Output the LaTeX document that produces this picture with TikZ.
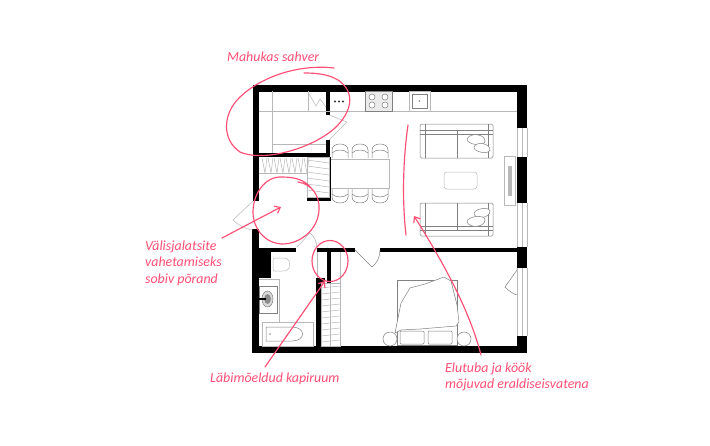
\documentclass[tikz,border=0pt]{standalone}
\usepackage{fontspec}
\setmainfont{Carlito}
\usetikzlibrary{arrows.meta}
\definecolor{notepink}{HTML}{FF4F75}
\definecolor{linegray}{HTML}{B8B8B8}
\definecolor{darkgray}{HTML}{808080}
\tikzset{
	wall/.style = {fill = black, draw = none},
	thin/.style = {draw = linegray, line width = 0.5pt},
	furn/.style = {draw = darkgray, line width = 0.5pt},
	inkline/.style = {draw = notepink, line width = 1.15pt, line cap = round},
	inkarrow/.style = {inkline, -{Straight Barb[length = 5pt, width = 8pt]}},
	note/.style = {text = notepink, font = \itshape\fontsize{13.9}{16}\selectfont, anchor = west, inner sep = 0pt, align = left}
}
\begin{document}
\begin{tikzpicture}[x = 1pt, y = -1pt]
	\useasboundingbox[fill = white] (0, 0) rectangle (710, 445);
	\fill[wall] (253, 85) rectangle (527, 91.5);
	\fill[wall] (253, 85) rectangle (259, 201);
	\fill[wall] (252, 229) rectangle (259, 353);
	\fill[wall] (252, 346) rectangle (527, 353);
	\fill[wall] (517, 85) rectangle (527, 128);
	\fill[wall] (517, 157) rectangle (527, 203);
	\fill[wall] (517, 247) rectangle (527, 268);
	\fill[wall] (517, 336) rectangle (527, 353);
	\fill[wall] (259, 153) rectangle (330, 157);
	\fill[wall] (326, 91) rectangle (330, 115);
	\fill[wall] (326, 140) rectangle (330, 157);
	\fill[wall] (329, 157) rectangle (331, 197);
	\fill[wall] (307, 197) rectangle (331, 201);
	\fill[wall] (259, 248) rectangle (296, 252);
	\fill[wall] (259, 250) rectangle (271, 278);
	\fill[wall] (317, 248) rectangle (355, 252);
	\fill[wall] (380, 248) rectangle (517, 252);
	\fill[wall] (327, 250) rectangle (331, 283);
	\fill[wall] (316, 278) rectangle (325, 283);
	\fill[wall] (316, 278) rectangle (321, 346);
	% kitchen
	\draw[thin] (259, 111) -- (517, 111);
	\draw[thin] (272, 91) -- (272, 153);
	\draw[thin] (272, 144) -- (326, 144);
	\draw[thin] (308, 91) -- (308, 111);
	\draw[thin] (308, 92) -- (316, 106) -- (320, 99) -- (326, 107);
	\draw[furn, fill = black!8] (365, 91) rectangle (392, 111);
	\foreach \hobx in {372, 385} \foreach \hoby in {97, 105} \draw[furn, fill = white] (\hobx, \hoby) circle (3);
	\draw[thin] (409, 91) rectangle (430, 111);
	\draw[furn] (412, 94) rectangle (427, 108);
	\fill[darkgray] (419.5, 101) circle (0.9);
	\foreach \dotx in {335, 339, 343} \fill[black!80] (\dotx, 101.5) circle (1.1);
	% hatching in the wardrobes
	\draw[thin] (259, 173) -- (307, 173);
	\foreach \hatchx in {262, 268, ..., 304} \draw[thin] (\hatchx, 158) -- (\hatchx + 3, 173) -- (\hatchx + 5, 158);
	\draw[thin] (307, 157) rectangle (329, 197);
	\foreach \hatchy in {160, 166, ..., 192} \draw[thin] (307, \hatchy) -- (329, \hatchy + 3);
	\draw[thin] (321, 283) rectangle (340, 346);
	\draw[thin] (330.5, 283) -- (330.5, 346);
	\foreach \hatchy in {288, 294, ..., 342} \draw[thin] (321, \hatchy) -- (340, \hatchy - 2);
	\draw[thin] (317, 252) -- (317, 278);
	\draw[thin] (340, 252) -- (340, 283);
	% doors
	\draw[thin] (253, 201) -- (233, 220) .. controls (238, 225) and (245, 229) .. (253, 230);
	\draw[thin] (329, 115) -- (347, 122) -- (329, 140);
	\draw[thin] (297, 247) -- (310, 233) .. controls (314, 236) and (317, 242) .. (317, 248);
	\draw[furn] (355, 250) -- (372, 267) .. controls (377, 263) and (380, 257) .. (380, 250);
	\draw[furn] (517, 270) -- (505, 287) .. controls (509, 291) and (513, 294) .. (517, 295);
	% windows
	\draw[thin] (522, 128) -- (522, 157) (527, 128) -- (527, 157) (517, 128) -- (517, 157);
	\draw[thin] (522, 203) -- (522, 247) (527, 203) -- (527, 247) (517, 203) -- (517, 247);
	\draw[thin] (522, 268) -- (522, 336) (527, 268) -- (527, 336) (517, 268) -- (517, 336);
	% dining table
	\draw[thin] (331, 159) -- (389, 159) -- (389, 188) -- (331, 188);
	\foreach \chairx in {332, 352, 372} {
		\draw[furn] (\chairx, 158) -- (\chairx, 150) .. controls (\chairx, 142) and (\chairx + 16, 142) .. (\chairx + 16, 150) -- (\chairx + 16, 158);
		\draw[furn] (\chairx, 153) .. controls (\chairx + 4, 149) and (\chairx + 12, 149) .. (\chairx + 16, 153);
		\draw[furn] (\chairx, 189) -- (\chairx, 197) .. controls (\chairx, 205) and (\chairx + 16, 205) .. (\chairx + 16, 197) -- (\chairx + 16, 189);
		\draw[furn] (\chairx, 194) .. controls (\chairx + 4, 198) and (\chairx + 12, 198) .. (\chairx + 16, 194);
	}
	% sofas
	\draw[furn, rounded corners = 1.5pt] (420, 124) rectangle (493, 158);
	\draw[furn] (425, 124) -- (425, 158) (457, 130) -- (457, 158) (488, 124) -- (488, 158);
	\draw[furn] (420, 130) -- (493, 130) (420, 134) -- (493, 134);
	\draw[furn, fill = white] (467, 139) .. controls (470, 132) and (485, 134) .. (485, 141) .. controls (485, 147) and (467, 145) .. (467, 139);
	\draw[furn, fill = white] (474, 147) .. controls (476, 141) and (490, 143) .. (490, 150) .. controls (489, 155) and (473, 152) .. (474, 147);
	\draw[furn, rounded corners = 1.5pt] (420, 203) rectangle (493, 236);
	\draw[furn] (425, 203) -- (425, 236) (457, 203) -- (457, 230) (488, 203) -- (488, 236);
	\draw[furn] (420, 230) -- (493, 230) (420, 226) -- (493, 226);
	\draw[furn, fill = white] (474, 214) .. controls (476, 220) and (490, 218) .. (490, 211) .. controls (489, 206) and (473, 209) .. (474, 214);
	\draw[furn, fill = white] (467, 222) .. controls (470, 229) and (485, 227) .. (485, 220) .. controls (485, 214) and (467, 216) .. (467, 222);
	\draw[thin, rounded corners = 3pt] (444, 172) rectangle (477, 189);
	\draw[thin] (504, 156) rectangle (515, 205);
	\draw[thin, fill = linegray] (508, 166) rectangle (511, 195);
	% bathroom
	\draw[thin, rounded corners = 2pt] (273, 258) -- (284, 258) .. controls (291, 259) and (291, 270) .. (284, 271) -- (273, 271) -- cycle;
	\draw[thin] (259, 279) -- (279, 279) -- (279, 322);
	\draw[furn] (259, 286) rectangle (277, 313);
	\draw[furn, fill = black!15] (267.5, 299) ellipse (5.5 and 8);
	\draw[furn, fill = black!45] (267.5, 299) ellipse (3 and 4.5);
	\fill[black] (259, 298) rectangle (266, 300);
	\draw[thin] (262, 322) rectangle (313, 346);
	\draw[furn] (266, 327) -- (292, 327) .. controls (306, 327) and (306, 341) .. (292, 341) -- (266, 341) -- cycle;
	\fill[darkgray] (270, 334) circle (0.8);
	% bed
	\draw[furn] (397, 280) rectangle (457, 345);
	\draw[furn, fill = white] (395, 333) -- (401, 303) -- (410, 288) -- (425, 284) -- (444, 277) -- (451, 281) -- (457, 305) -- (459, 322) -- (456, 326) -- (420, 329) -- (401, 330) -- cycle;
	\draw[furn, fill = white, rounded corners = 1pt] (400, 331) rectangle (424, 344);
	\draw[furn, fill = white, rounded corners = 1pt] (428, 331) rectangle (452, 344);
	\draw[furn, fill = white] (390, 339) circle (7);
	\draw[furn, fill = white] (464, 339) circle (7);
	% notes
	\node[note] (pantrynote) at (227, 57) {Mahukas sahver};
	\node[note] (shoesnote) at (145, 263) {Välisjalatsite\\[0.5pt]vahetamiseks\\[0.5pt]sobiv põrand};
	\node[note] (closetnote) at (210, 379) {Läbimõeldud kapiruum};
	\node[note] (livingnote) at (445, 377) {Elutuba ja köök\\[0.5pt]mõjuvad eraldiseisvatena};
	\draw[inkline] (334, 68) .. controls (300, 64) and (262, 76) .. (240, 97) .. controls (222, 114) and (222, 140) .. (240, 152) .. controls (262, 162) and (310, 150) .. (335, 128) .. controls (352, 112) and (356, 92) .. (338, 80) .. controls (328, 74) and (316, 73) .. (304, 73);
	\draw[inkline] (298, 182) .. controls (312, 184) and (320, 196) .. (319, 210) .. controls (318, 230) and (300, 244) .. (282, 244) .. controls (264, 243) and (253, 228) .. (253, 212) .. controls (253, 194) and (265, 176) .. (282, 177) .. controls (295, 177) and (305, 180) .. (311, 188);
	\draw[inkline] (330, 261) ellipse (18 and 20.5);
	\draw[inkline] (408, 125) .. controls (403, 160) and (402, 200) .. (406, 235);
	\coordinate (shoesfrom) at (222, 238);
	\coordinate (shoesto) at (281, 207);
	\coordinate (closetfrom) at (265, 367);
	\coordinate (closetto) at (325, 281);
	\coordinate (livingfrom) at (481, 355);
	\coordinate (livingto) at (414, 216);
	\draw[inkarrow] (shoesfrom) -- (shoesto);
	\draw[inkarrow] (closetfrom) -- (closetto);
	\draw[inkarrow] (livingfrom) .. controls (470, 312) and (445, 265) .. (livingto);
\end{tikzpicture}
\end{document}
